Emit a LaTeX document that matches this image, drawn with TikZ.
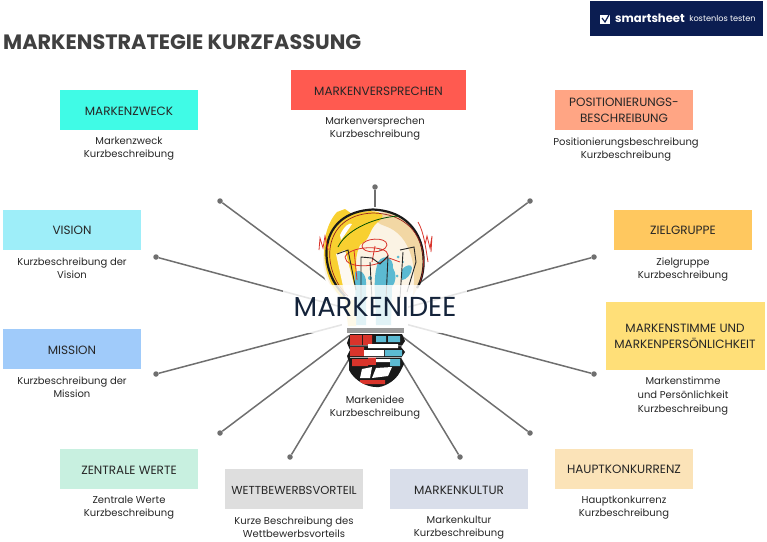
\documentclass[tikz,border=0pt]{standalone}
\usepackage{fontspec}
\setmainfont{Poppins}
\definecolor{navy}{HTML}{0B1D51}
\definecolor{ink}{HTML}{14233A}
\definecolor{spoke}{HTML}{6F6F6F}
\definecolor{titlec}{HTML}{404040}
\definecolor{c1}{HTML}{40FBE6}
\definecolor{c2}{HTML}{FF5A50}
\definecolor{c3}{HTML}{FFA584}
\definecolor{c4}{HTML}{9EEEF9}
\definecolor{c5}{HTML}{FFC85F}
\definecolor{c6}{HTML}{A0CBFA}
\definecolor{c7}{HTML}{FFDF78}
\definecolor{c8}{HTML}{C8F0E0}
\definecolor{c9}{HTML}{DEDEDE}
\definecolor{c10}{HTML}{D9DEEA}
\definecolor{c11}{HTML}{FBE3B8}
\definecolor{byellow}{HTML}{F8D030}
\definecolor{bcream}{HTML}{FBF3E4}
\definecolor{btan}{HTML}{F2D7A4}
\definecolor{bblue}{HTML}{5CBAD2}
\definecolor{bred}{HTML}{D9342B}
\tikzset{
  box/.style={minimum width=138pt,minimum height=40pt,inner sep=0pt,align=center,font=\fontsize{12}{16}\selectfont,text=black!85,execute at begin node={\rule{0pt}{11pt}}},
  captxt/.style={align=center,font=\fontsize{10}{13}\selectfont,text=black!85,anchor=north},
  tip/.style={circle,fill=spoke,inner sep=0pt,minimum size=5.5pt},
  spokeline/.style={draw=spoke,line width=1.5pt},
}
\begin{document}
\begin{tikzpicture}[x=1pt,y=-1pt]
\useasboundingbox (0,0) rectangle (767,541);
% banner
\node[fill=navy,minimum width=173pt,minimum height=35pt,inner sep=0pt] (banner) at (676.5,18.5) {};
\node[text=white,font=\bfseries\fontsize{11.6}{14}\selectfont,inner sep=0pt] (brand) at (650,18) {smartsheet};
\node[text=white,font=\fontsize{8.2}{10}\selectfont,inner sep=0pt] (free) at (722.5,19) {kostenlos testen};
\node[fill=white,minimum size=9.5pt,inner sep=0pt] (logo) at (605,19.5) {};
\draw[navy,line width=1.2pt] (602,18) -- (605,22) -- (610,13);
\node[anchor=west,text=titlec,font=\bfseries\fontsize{20.8}{24}\selectfont,inner sep=0pt] (title) at (3,42) {MARKENSTRATEGIE KURZFASSUNG};
% boxes
\node[box,fill=c1] (zweck) at (129,110) {MARKENZWECK};
\node[box,minimum width=175pt,minimum height=40pt,fill=c2] (vers) at (378.5,90) {MARKENVERSPRECHEN};
\node[box,fill=c3] (pos) at (624,110) {POSITIONIERUNGS-\\BESCHREIBUNG};
\node[box,fill=c4] (vision) at (72,229.5) {VISION};
\node[box,fill=c5] (ziel) at (683,229.5) {ZIELGRUPPE};
\node[box,fill=c6] (mission) at (72,349) {MISSION};
\node[box,minimum width=159pt,minimum height=68pt,fill=c7] (stimme) at (685,336) {MARKENSTIMME UND\\MARKENPERSÖNLICHKEIT};
\node[box,fill=c8] (werte) at (129,468.5) {ZENTRALE WERTE};
\node[box,fill=c9,font=\fontsize{11.6}{16}\selectfont] (wett) at (294,489) {WETTBEWERBSVORTEIL};
\node[box,fill=c10] (kultur) at (459,489) {MARKENKULTUR};
\node[box,fill=c11] (konk) at (624,468.5) {HAUPTKONKURRENZ};
% captions
\node[captxt] (t1) at (129,134) {Markenzweck\\Kurzbeschreibung};
\node[captxt] (t2) at (375,114) {Markenversprechen\\Kurzbeschreibung};
\node[captxt] (t3) at (626,134) {Positionierungsbeschreibung\\Kurzbeschreibung};
\node[captxt] (t4) at (72,254) {Kurzbeschreibung der\\Vision};
\node[captxt] (t5) at (683,254) {Zielgruppe\\Kurzbeschreibung};
\node[captxt] (t6) at (72,373) {Kurzbeschreibung der\\Mission};
\node[captxt,font=\fontsize{10}{14}\selectfont] (t7) at (683,373) {Markenstimme\\und Persönlichkeit\\Kurzbeschreibung};
\node[captxt] (t8) at (375,392) {Markenidee\\Kurzbeschreibung};
\node[captxt] (t9) at (129,493) {Zentrale Werte\\Kurzbeschreibung};
\node[captxt] (t10) at (294,513) {Kurze Beschreibung des\\Wettbewerbsvorteils};
\node[captxt] (t11) at (459,513) {Markenkultur\\Kurzbeschreibung};
\node[captxt] (t12) at (624,493) {Hauptkonkurrenz\\Kurzbeschreibung};
% spokes
\coordinate (hub) at (375,316);
\foreach \n/\x/\y in {a/375/187,b/220/201,c/530/201,d/156/257,e/594/257,f/156/374,g/594/374,h/220/433,i/530/433,j/290/457,k/460/457}{
  \node[tip] (\n) at (\x,\y) {};
  \draw[spokeline] (\n) -- (hub);
}
% bulb silhouette
\fill[white] (373,259) circle (52);
\fill[white] (342,290) rectangle (408,335);
% glass
\fill[bcream] (373,259) circle (50);
\fill[btan] (385,212) .. controls (415,218) and (428,245) .. (422,275) .. controls (420,285) and (415,292) .. (412,298) .. controls (418,270) and (412,235) .. (385,226) .. controls (372,222) and (372,214) .. (385,212);
\fill[byellow] (337,212) -- (345,209) -- (352,214) .. controls (372,208) and (392,212) .. (378,222) .. controls (368,230) and (372,238) .. (360,245) .. controls (352,262) and (358,280) .. (362,300) -- (345,300) .. controls (322,285) and (316,235) .. (337,212);
\fill[white] (340,235) .. controls (344,226) and (350,222) .. (352,224) .. controls (348,230) and (344,236) .. (341,240) -- cycle;
\fill[bcream!50!white] (336,254) -- (345,250) -- (358,300) -- (346,300) -- cycle;
% blue splash
\fill[bblue] (355,272) .. controls (360,268) and (366,274) .. (366,282) -- (366,325) -- (356,325) -- cycle;
\fill[bblue] (378,262) .. controls (384,253) and (394,258) .. (393,268) .. controls (397,274) and (396,282) .. (392,287) -- (391,325) -- (376,325) .. controls (376,300) and (372,280) .. (378,262);
\fill[bblue] (402,270) .. controls (406,264) and (412,264) .. (412,268) .. controls (412,274) and (406,280) .. (402,280) -- cycle;
\fill[bblue] (398,257) circle (1.5) (403,262) circle (1) (380,250) circle (1.2) (370,278) circle (2) (397,276) circle (1.5);
\fill[byellow!60!white] (345,300) -- (356,300) -- (356,326) -- (348,326) -- cycle;
% outline
\draw[black!90,line width=2.2pt] (345,296) .. controls (316,268) and (318,212) .. (373,209.5) .. controls (428,212) and (430,268) .. (417,288);
\draw[bred!70!black,line width=.7pt] (348,296) .. controls (320,270) and (321,215) .. (373,213) .. controls (420,214) and (430,255) .. (420,282);
\draw[black!70!green,line width=.8pt] (338,247) .. controls (345,232) and (370,218) .. (398,216);
% filaments
\draw[bred,line width=.8pt] (345,257) .. controls (350,245) and (388,245) .. (388,255) .. controls (385,268) and (345,270) .. (345,257)
  (362,246) .. controls (362,238) and (387,236) .. (387,245) .. controls (385,254) and (362,254) .. (362,246)
  (354,250) -- (357,280) (375,246) -- (372,262) (389,258) -- (400,262)
  (319,250) -- (320,238) -- (323,248) -- (325,236) -- (328,250)
  (418,222) .. controls (424,232) and (426,250) .. (428,262) (425,245) -- (427,236) -- (430,248) -- (432,236) -- (431,252);
\draw[black!85,line width=.9pt] (361,300) -- (361,257) -- (372,258) -- (380,264) -- (388,256) -- (386,300)
  (370,262) -- (372,300) (337,254) -- (348,250) -- (356,290)
  (400,250) -- (414,247) -- (416,262) -- (407,292) (403,252) -- (400,298);
% band
\fill[white,opacity=.82] (283,285) rectangle (467,333);
% socket
\fill[black!40] (347,328) rectangle (404,333);
\begin{scope}
\clip (350,334) -- (402,334) -- (405,341) -- (401,347) -- (405,352) -- (401,358) -- (404,364) -- (400,372) .. controls (395,382) and (382,388) .. (376,387) .. controls (366,387) and (354,380) .. (349,370) -- (349,362) -- (347,356) -- (350,350) -- (347,343) -- cycle;
\fill[black!90] (340,330) rectangle (410,390);
\fill[bred] (350,335) rectangle (362,345) (363,335) rectangle (372,345) (350,347) rectangle (364,356) (352,359) rectangle (368,366) (360,380) rectangle (385,384);
\fill[bblue] (376,336) rectangle (386,342) (388,336) rectangle (400,342) (385,350) rectangle (402,356) (390,359) rectangle (400,366);
\fill[white] (368,344) rectangle (398,348) (364,350) rectangle (384,356) (374,359) rectangle (390,362) (362,369) -- (372,367) -- (370,378) -- (360,378) -- cycle (376,368) -- (392,367) -- (388,376) -- (372,378) -- cycle;
\fill[bred] (368,357) rectangle (376,365);
\fill[white] (350,345.5) rectangle (404,346.2) (350,357) rectangle (404,357.7);
\end{scope}
\node[text=ink,font=\fontsize{27.4}{30}\selectfont,inner sep=0pt] (idee) at (375,307) {MARKENIDEE};
\end{tikzpicture}
\end{document}
